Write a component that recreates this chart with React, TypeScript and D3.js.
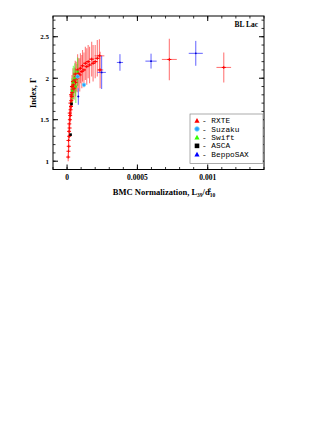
import React from "react";
import * as d3 from "d3";

// x values in BMC normalization units, y = photon index
// [x, y, xErr, yErr]
const rxte: number[][] = [
  [0.000008, 1.05, 0.000002, 0.05],
  [0.00001, 1.12, 0.000002, 0.06],
  [0.000012, 1.18, 0.000002, 0.05],
  [0.00001, 1.25, 0.000002, 0.07],
  [0.000015, 1.3, 0.000003, 0.06],
  [0.000014, 1.36, 0.000003, 0.08],
  [0.000018, 1.4, 0.000003, 0.07],
  [0.000016, 1.45, 0.000003, 0.08],
  [0.00002, 1.5, 0.000003, 0.07],
  [0.000022, 1.55, 0.000004, 0.08],
  [0.000019, 1.58, 0.000004, 0.09],
  [0.000025, 1.62, 0.000004, 0.08],
  [0.000028, 1.66, 0.000004, 0.1],
  [0.000024, 1.7, 0.000004, 0.09],
  [0.00003, 1.73, 0.000005, 0.1],
  [0.000033, 1.78, 0.000005, 0.12],
  [0.000028, 1.8, 0.000005, 0.11],
  [0.000036, 1.83, 0.000005, 0.13],
  [0.00004, 1.86, 0.000006, 0.12],
  [0.000035, 1.9, 0.000006, 0.14],
  [0.000045, 1.92, 0.000006, 0.15],
  [0.00005, 1.88, 0.000007, 0.14],
  [0.000042, 1.96, 0.000006, 0.16],
  [0.000055, 1.98, 0.000007, 0.15],
  [0.00006, 1.95, 0.000008, 0.17],
  [0.000065, 2.02, 0.000008, 0.18],
  [0.000058, 2.05, 0.000008, 0.16],
  [0.000072, 2.0, 0.000009, 0.17],
  [0.00008, 2.06, 0.00001, 0.18],
  [0.000075, 2.1, 0.00001, 0.19],
  [0.00009, 2.04, 0.000011, 0.2],
  [0.000095, 2.12, 0.000011, 0.18],
  [0.000105, 2.08, 0.000012, 0.2],
  [0.00011, 2.15, 0.000012, 0.19],
  [0.00012, 2.1, 0.000013, 0.21],
  [0.00013, 2.18, 0.000014, 0.2],
  [0.00014, 2.14, 0.000015, 0.22],
  [0.00015, 2.2, 0.000016, 0.2],
  [0.00016, 2.16, 0.000017, 0.22],
  [0.000175, 2.23, 0.000018, 0.21],
  [0.000185, 2.18, 0.000019, 0.22],
  [0.0002, 2.2, 0.00002, 0.2],
  [0.000215, 2.24, 0.000021, 0.22],
  [0.00023, 2.27, 0.000035, 0.2],
  [0.000235, 2.1, 0.000022, 0.22],
  [0.000727, 2.226, 0.000053, 0.25],
  [0.001114, 2.13, 0.000052, 0.18],
];

const suzaku: number[][] = [
  [0.000075, 2.02, 0.000004, 0.03],
  [0.00012, 1.92, 0.000004, 0.03],
];

const swift: number[][] = [
  [0.000035, 1.85, 0.000004, 0.15],
  [0.000045, 1.95, 0.000005, 0.2],
  [0.000055, 2.0, 0.000005, 0.18],
  [0.000062, 1.9, 0.000005, 0.2],
  [0.000075, 2.08, 0.000006, 0.17],
];

const asca: number[][] = [
  [0.000032, 1.69, 0.000003, 0.03],
  [0.000025, 1.32, 0.000003, 0.03],
];

const beppo: number[][] = [
  [0.00008, 1.78, 0.000007, 0.1],
  [0.000246, 2.07, 0.00003, 0.2],
  [0.000376, 2.19, 0.000022, 0.1],
  [0.000597, 2.206, 0.00004, 0.09],
  [0.000915, 2.3, 0.00005, 0.15],
];

const legendNames = ["RXTE", "Suzaku", "Swift", "ASCA", "BeppoSAX"];
const xMajor = [0, 0.0005, 0.001];
const xMajorLabels = ["0", "0.0005", "0.001"];
const yMajor = [1, 1.5, 2, 2.5];

const W = 327;
const H = 423;
const left = 53;
const right = 264;
const top = 16;
const bottom = 169.5;

const App = () => {
  const x = d3.scaleLinear().domain([-0.0001, 0.0014]).range([left, right]);
  const y = d3.scaleLinear().domain([0.9, 2.75]).range([bottom, top]);

  const xMinor = d3.range(-0.0001, 0.00141, 0.0001);
  const yMinor = d3.range(0.9, 2.751, 0.1);

  const serif = "'Liberation Serif', 'DejaVu Serif', serif";
  const mono = "'Liberation Mono', 'DejaVu Sans Mono', monospace";

  const errBars = (pts: number[][], color: string, op: number, sw: number, key: string) =>
    pts.map((p, i) => (
      <g key={key + i} stroke={color} strokeOpacity={op} strokeWidth={sw}>
        <line x1={x(p[0])} x2={x(p[0])} y1={y(p[1] - p[3])} y2={y(p[1] + p[3])} />
        <line x1={x(p[0] - p[2])} x2={x(p[0] + p[2])} y1={y(p[1])} y2={y(p[1])} />
      </g>
    ));

  const legendColors = ["#ff0000", "#33bbff", "#33ff00", "#000000", "#0000ff"];

  return (
    <svg width={W} height={H} style={{ position: "absolute", left: 0, top: 0, background: "#fff" }}>
      {/* data */}
      {errBars(rxte, "#ff2020", 0.6, 1.1, "rxe")}
      {errBars(swift, "#44ff22", 0.6, 1.3, "swe")}
      {errBars(beppo, "#2020ff", 0.7, 1, "bse")}
      {rxte.map((p, i) => (
        <g key={"rx" + i} stroke="#ff0000" strokeWidth={1}>
          <line x1={x(p[0]) - 2} x2={x(p[0]) + 2} y1={y(p[1])} y2={y(p[1])} />
          <line x1={x(p[0])} x2={x(p[0])} y1={y(p[1]) - 1.5} y2={y(p[1]) + 1.5} />
        </g>
      ))}
      {swift.map((p, i) => (
        <rect key={"sw" + i} x={x(p[0]) - 1} y={y(p[1]) - 1} width={2} height={2} fill="#33ee00" />
      ))}
      {beppo.map((p, i) => (
        <circle key={"bs" + i} cx={x(p[0])} cy={y(p[1])} r={0.9} fill="#0000cc" />
      ))}
      {asca.map((p, i) => (
        <rect key={"as" + i} x={x(p[0]) - 1.3} y={y(p[1]) - 1.3} width={2.6} height={2.6} fill="#000" />
      ))}
      {suzaku.map((p, i) => (
        <circle key={"sz" + i} cx={x(p[0])} cy={y(p[1])} r={1.8} fill="#2a9dff" stroke="#66ddff" strokeWidth={0.8} />
      ))}

      {/* frame */}
      <rect x={left} y={top} width={right - left} height={bottom - top} fill="none" stroke="#000" strokeWidth={1} />
      {xMinor.map((v, i) => (
        <g key={"xm" + i} stroke="#000" strokeWidth={0.8}>
          <line x1={x(v)} x2={x(v)} y1={bottom} y2={bottom - 2.5} />
          <line x1={x(v)} x2={x(v)} y1={top} y2={top + 2.5} />
        </g>
      ))}
      {xMajor.map((v, i) => (
        <g key={"xM" + i}>
          <line x1={x(v)} x2={x(v)} y1={bottom} y2={bottom - 5} stroke="#000" />
          <line x1={x(v)} x2={x(v)} y1={top} y2={top + 5} stroke="#000" />
          <text x={x(v)} y={bottom + 10} fontFamily={serif} fontSize={7.5} fontWeight="bold" textAnchor="middle">
            {xMajorLabels[i]}
          </text>
        </g>
      ))}
      {yMinor.map((v, i) => (
        <g key={"ym" + i} stroke="#000" strokeWidth={0.8}>
          <line x1={left} x2={left + 2.5} y1={y(v)} y2={y(v)} />
          <line x1={right} x2={right - 2.5} y1={y(v)} y2={y(v)} />
        </g>
      ))}
      {yMajor.map((v, i) => (
        <g key={"yM" + i}>
          <line x1={left} x2={left + 5} y1={y(v)} y2={y(v)} stroke="#000" />
          <line x1={right} x2={right - 5} y1={y(v)} y2={y(v)} stroke="#000" />
          <text x={left - 4} y={y(v) + 2.5} fontFamily={serif} fontSize={7} fontWeight="bold" textAnchor="end">
            {String(v)}
          </text>
        </g>
      ))}

      <text x={258} y={27} fontFamily={serif} fontSize={7.5} fontWeight="bold" textAnchor="end">
        BL Lac
      </text>

      {/* axis titles */}
      <text
        transform={`translate(${36},${(top + bottom) / 2}) rotate(-90)`}
        fontFamily={serif}
        fontSize={8.5}
        fontWeight="bold"
        textAnchor="middle"
      >
        Index, Γ
      </text>
      <text x={164} y={195} fontFamily={serif} fontSize={8.5} fontWeight="bold" textAnchor="middle">
        BMC Normalization, L
        <tspan fontSize={5.5} dy={2}>39</tspan>
        <tspan dy={-2}>/d</tspan>
        <tspan fontSize={5.5} dy={2}>10</tspan>
        <tspan fontSize={5.5} dx={-7} dy={-5}>2</tspan>
      </text>

      {/* legend */}
      <rect x={190} y={114} width={right - 190 - 1} height={49.5} fill="#fff" stroke="#888" strokeWidth={0.7} />
      {legendNames.map((name, i) => {
        const cy = 120.5 + i * 8.45;
        const cx = 197;
        const c = legendColors[i];
        let sym;
        if (i === 0 || i === 2 || i === 4) {
          sym = <path d={`M${cx - 2.6},${cy + 2.2}L${cx + 2.6},${cy + 2.2}L${cx},${cy - 2.6}Z`} fill={c} />;
        } else if (i === 1) {
          sym = <circle cx={cx} cy={cy} r={2.3} fill="#2a9dff" stroke="#66ddff" strokeWidth={0.8} />;
        } else {
          sym = <rect x={cx - 2.3} y={cy - 2.3} width={4.6} height={4.6} fill={c} />;
        }
        return (
          <g key={name}>
            {sym}
            <text x={202} y={cy + 2.6} fontFamily={mono} fontSize={7.8}>
              {"- " + name}
            </text>
          </g>
        );
      })}
    </svg>
  );
};

export default App;
